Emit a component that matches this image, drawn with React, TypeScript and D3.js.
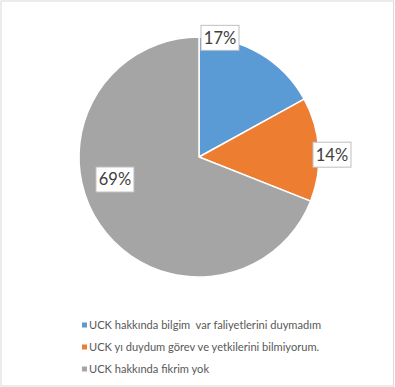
import React from "react";
import * as d3 from "d3";

// Survey answers and their shares (percent)
const categories = [
  "UCK hakkında bilgim  var faliyetlerini duymadım",
  "UCK yı duydum görev ve yetkilerini bilmiyorum.",
  "UCK hakkında fikrim yok",
];
const shares = [17, 14, 69];
const colors = ["#5B9BD5", "#ED7D31", "#A5A5A5"];

// Label anchor for each slice: polar angle (degrees, clockwise from top) and distance from centre
const labelPolar = [
  { angle: 10, dist: 121 },
  { angle: 89, dist: 133 },
  { angle: 255, dist: 87 },
];

const W = 395;
const H = 387;
const cx = 199;
const cy = 157;
const R = 120;

export default function App() {
  const pie = d3
    .pie<number>()
    .sort(null)
    .value((d) => d);
  const arcs = pie(shares);
  const arc = d3.arc<d3.PieArcDatum<number>>().innerRadius(0).outerRadius(R);
  const fmt = (v: number) => `${v}%`;

  const legendX = 82;
  const legendY0 = 325;
  const legendStep = 22;

  return (
    <svg
      width={W}
      height={H}
      style={{ position: "absolute", left: 0, top: 0, background: "#fff" }}
    >
      <rect x={1} y={1} width={W - 2.5} height={H - 2} fill="#fff" stroke="#D9D9D9" strokeWidth={1} />
      <g transform={`translate(${cx},${cy})`}>
        {arcs.map((a, i) => (
          <path key={i} d={arc(a) || ""} fill={colors[i]} stroke="#fff" strokeWidth={1.5} />
        ))}
        {arcs.map((a, i) => {
          const p = labelPolar[i];
          const t = (p.angle * Math.PI) / 180;
          const x = Math.sin(t) * p.dist;
          const y = -Math.cos(t) * p.dist;
          const bw = 38;
          const bh = 25;
          return (
            <g key={`l${i}`} transform={`translate(${x},${y})`}>
              <rect x={-bw / 2} y={-bh / 2} width={bw} height={bh} fill="#fff" stroke="#BFBFBF" strokeWidth={1} />
              <text
                textAnchor="middle"
                dy="0.36em"
                fontFamily="Lato, 'Open Sans', sans-serif"
                fontSize={16.5}
                fill="#404040"
              >
                {fmt(a.data)}
              </text>
            </g>
          );
        })}
      </g>
      <g fontFamily="Lato, 'Open Sans', sans-serif" fontSize={11.1} fill="#595959">
        {categories.map((c, i) => (
          <g key={c} transform={`translate(${legendX},${legendY0 + i * legendStep})`}>
            <rect x={0} y={-2.5} width={5} height={5} fill={colors[i]} />
            <text x={7} dy="0.35em" style={{ whiteSpace: "pre" }}>
              {c}
            </text>
          </g>
        ))}
      </g>
    </svg>
  );
}
